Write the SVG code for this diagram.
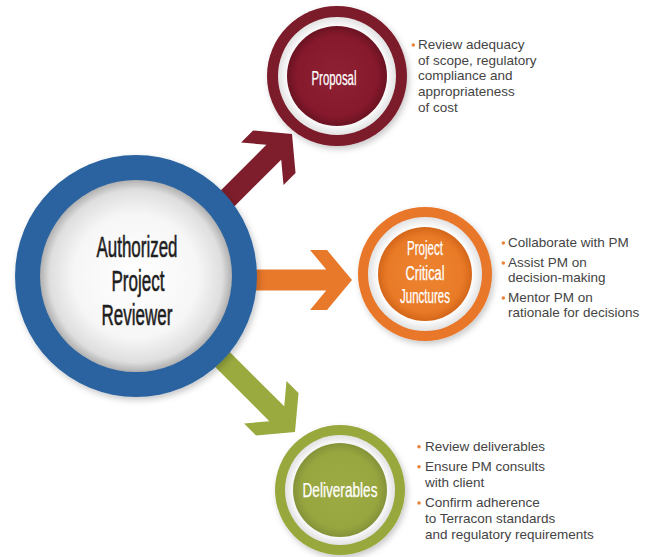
<svg xmlns="http://www.w3.org/2000/svg" width="649" height="557" viewBox="0 0 649 557">
<defs>
<style>
.lbl{font-family:"Liberation Sans",Arial,sans-serif;text-anchor:middle}
.center{font-size:30px;fill:#1e1e1e;stroke:#1e1e1e;stroke-width:0.6px}
.node{font-size:20px;fill:#ffffff;stroke:#ffffff;stroke-width:0.25px}
.bul{font-family:"Liberation Sans",Arial,sans-serif;font-size:13.5px;fill:#444444}
.dot{fill:#e8843a}
</style>
<radialGradient id="gWhite" cx="0.5" cy="0.5" r="0.5">
<stop offset="0" stop-color="#ffffff"/>
<stop offset="0.65" stop-color="#f6f6f6"/>
<stop offset="0.9" stop-color="#dedede"/>
<stop offset="1" stop-color="#b0b0b0"/>
</radialGradient>
<radialGradient id="gRing" cx="0.5" cy="0.5" r="0.5">
<stop offset="0.82" stop-color="#ffffff"/>
<stop offset="1" stop-color="#e2e2e2"/>
</radialGradient>
<radialGradient id="gMaroon" cx="0.5" cy="0.5" r="0.5">
<stop offset="0" stop-color="#8e2134"/>
<stop offset="0.8" stop-color="#86192c"/>
<stop offset="1" stop-color="#6a1322"/>
</radialGradient>
<radialGradient id="gOrange" cx="0.5" cy="0.5" r="0.5">
<stop offset="0" stop-color="#ed8331"/>
<stop offset="0.8" stop-color="#e97b27"/>
<stop offset="1" stop-color="#d4661a"/>
</radialGradient>
<radialGradient id="gGreen" cx="0.5" cy="0.5" r="0.5">
<stop offset="0" stop-color="#9dab45"/>
<stop offset="0.8" stop-color="#98a63f"/>
<stop offset="1" stop-color="#85933a"/>
</radialGradient>
<filter id="sh" x="-20%" y="-20%" width="140%" height="140%">
<feDropShadow dx="2" dy="3" stdDeviation="3" flood-color="#000" flood-opacity="0.22"/>
</filter>
<polygon id="arrow" points="0,0 -25,-30 -42,-30 -25.75,-10.5 -130,-10.5 -130,10.5 -25.75,10.5 -42,30 -25,30"/>
</defs>
<rect width="649" height="557" fill="#ffffff"/>

<g id="connectors">
<use href="#arrow" transform="translate(292,134) rotate(-45)" fill="#7e1d2c"/>
<use href="#arrow" transform="translate(352,280)" fill="#e8782a"/>
<use href="#arrow" transform="translate(295,432) rotate(45)" fill="#9aaa3f"/>
</g>

<g id="reviewer">
<circle cx="136" cy="276" r="121" fill="#2b64a0" filter="url(#sh)"/>
<circle cx="136" cy="276" r="96" fill="url(#gWhite)"/>
<text class="lbl center" x="137" y="257" textLength="81" lengthAdjust="spacingAndGlyphs">Authorized</text>
<text class="lbl center" x="138" y="291" textLength="53" lengthAdjust="spacingAndGlyphs">Project</text>
<text class="lbl center" x="137" y="325" textLength="71" lengthAdjust="spacingAndGlyphs">Reviewer</text>
</g>

<g id="proposal">
<circle cx="337" cy="76" r="70" fill="#7b1a2a" filter="url(#sh)"/>
<circle cx="337" cy="76" r="59" fill="url(#gRing)"/>
<circle cx="337" cy="76" r="50" fill="url(#gMaroon)"/>
<text class="lbl node" x="334" y="85" font-size="18.5" textLength="45" lengthAdjust="spacingAndGlyphs">Proposal</text>
</g>

<g id="junctures">
<circle cx="425" cy="274" r="67" fill="#e8772a" filter="url(#sh)"/>
<circle cx="425" cy="274" r="57" fill="url(#gRing)"/>
<circle cx="425" cy="274" r="47" fill="url(#gOrange)"/>
<text class="lbl node" x="425" y="255" textLength="36" lengthAdjust="spacingAndGlyphs">Project</text>
<text class="lbl node" x="425" y="280" textLength="39" lengthAdjust="spacingAndGlyphs">Critical</text>
<text class="lbl node" x="425" y="303" textLength="50" lengthAdjust="spacingAndGlyphs">Junctures</text>
</g>

<g id="deliverables">
<circle cx="340" cy="490" r="65" fill="#98a83e" filter="url(#sh)"/>
<circle cx="340" cy="490" r="55" fill="url(#gRing)"/>
<circle cx="340" cy="490" r="47" fill="url(#gGreen)"/>
<text class="lbl node" x="340" y="497" textLength="75" lengthAdjust="spacingAndGlyphs">Deliverables</text>
</g>

<g id="proposal-notes">
<circle class="dot" cx="413.3" cy="45" r="1.8"/>
<text class="bul" x="418" y="49">Review adequacy</text>
<text class="bul" x="418" y="64.7">of scope, regulatory</text>
<text class="bul" x="418" y="80.4">compliance and</text>
<text class="bul" x="418" y="96.1">appropriateness</text>
<text class="bul" x="418" y="111.8">of cost</text>
</g>

<g id="junctures-notes">
<circle class="dot" cx="503.3" cy="243" r="1.8"/>
<text class="bul" x="508" y="247">Collaborate with PM</text>
<circle class="dot" cx="503.3" cy="263" r="1.8"/>
<text class="bul" x="508" y="267">Assist PM on</text>
<text class="bul" x="508" y="281.5">decision-making</text>
<circle class="dot" cx="503.3" cy="298" r="1.8"/>
<text class="bul" x="508" y="302">Mentor PM on</text>
<text class="bul" x="508" y="317">rationale for decisions</text>
</g>

<g id="deliverables-notes">
<circle class="dot" cx="419" cy="446.7" r="1.8"/>
<text class="bul" x="425" y="451">Review deliverables</text>
<circle class="dot" cx="419" cy="466.7" r="1.8"/>
<text class="bul" x="425" y="471">Ensure PM consults</text>
<text class="bul" x="425" y="486.5">with client</text>
<circle class="dot" cx="419" cy="503" r="1.8"/>
<text class="bul" x="425" y="507">Confirm adherence</text>
<text class="bul" x="425" y="523">to Terracon standards</text>
<text class="bul" x="425" y="539">and regulatory requirements</text>
</g>
</svg>
